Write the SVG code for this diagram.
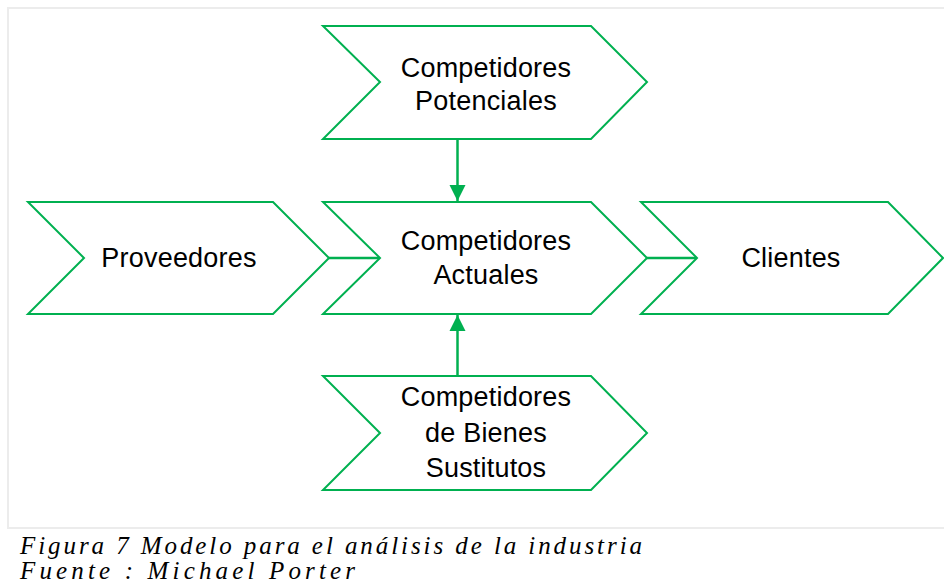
<svg xmlns="http://www.w3.org/2000/svg" width="944" height="585" viewBox="0 0 944 585">
<style>
.chev{fill:#fff;stroke:#00B050;stroke-width:2;stroke-linejoin:miter}
.lbl{font-family:"Liberation Sans",Arial,sans-serif;font-size:27px;fill:#000;text-anchor:middle;letter-spacing:0.2px}
.con{stroke:#00B050;stroke-width:2.5;fill:none}
.cap{font-family:"Liberation Serif","Times New Roman",serif;font-style:italic;font-size:25px;fill:#000}
</style>
<defs>
<marker id="ah" viewBox="0 0 10 10" refX="10" refY="5" markerWidth="6.5" markerHeight="6.5" markerUnits="strokeWidth" orient="auto">
<path d="M0,0 L10,5 L0,10 Z" fill="#00B050"/>
</marker>
</defs>
<rect x="0" y="0" width="944" height="585" fill="#fff"/>
<rect x="8" y="8" width="945" height="520" fill="#fff" stroke="#ececec" stroke-width="2"/>
<g id="connectors">
<line class="con" x1="329" y1="258" x2="380" y2="258"/>
<line class="con" x1="647" y1="258" x2="697" y2="258"/>
<line class="con" x1="457.5" y1="139" x2="457.5" y2="201" marker-end="url(#ah)"/>
<line class="con" x1="457.5" y1="376" x2="457.5" y2="315" marker-end="url(#ah)"/>
</g>
<g id="potenciales">
<polygon class="chev" points="323,26 591,26 647,82 591,139 323,139 380,82"/>
<text class="lbl" x="486" y="77">Competidores</text>
<text class="lbl" x="486" y="110">Potenciales</text>
</g>
<g id="proveedores">
<polygon class="chev" points="28,202 273,202 329,258 273,314 28,314 84,258"/>
<text class="lbl" x="179" y="267">Proveedores</text>
</g>
<g id="actuales">
<polygon class="chev" points="323,202 591,202 647,258 591,314 323,314 380,258"/>
<text class="lbl" x="486" y="250">Competidores</text>
<text class="lbl" x="486" y="284">Actuales</text>
</g>
<g id="clientes">
<polygon class="chev" points="641,202 888,202 943,258 888,314 641,314 697,258"/>
<text class="lbl" x="791" y="267">Clientes</text>
</g>
<g id="sustitutos">
<polygon class="chev" points="323,376 591,376 647,433 591,490 323,490 380,433"/>
<text class="lbl" x="486" y="406">Competidores</text>
<text class="lbl" x="486" y="442">de Bienes</text>
<text class="lbl" x="486" y="477">Sustitutos</text>
</g>
<text class="cap" x="20" y="554" textLength="622" lengthAdjust="spacing">Figura 7 Modelo para el análisis de la industria</text>
<text class="cap" x="20" y="579" textLength="335" lengthAdjust="spacing">Fuente : Michael Porter</text>
</svg>
